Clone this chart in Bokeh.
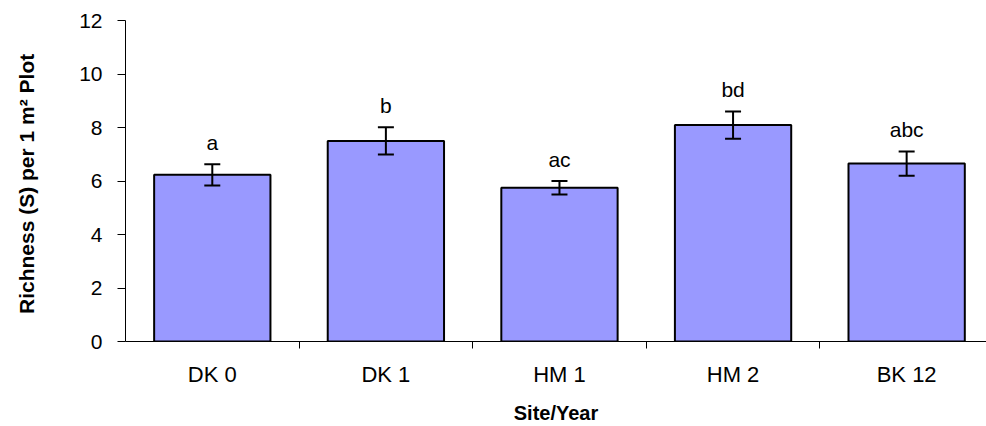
from bokeh.plotting import figure
from bokeh.models import Range1d, FixedTicker, ColumnDataSource, Whisker, TeeHead
from bokeh.core.properties import value
from bokeh.embed import file_html
from bokeh.resources import INLINE

categories = ["DK 0", "DK 1", "HM 1", "HM 2", "BK 12"]
richness = [6.23, 7.50, 5.75, 8.09, 6.65]
std_err = [0.40, 0.51, 0.25, 0.51, 0.45]
groups = ["a", "b", "ac", "bd", "abc"]
y_ticks = [0, 2, 4, 6, 8, 10, 12]

FONT = "Liberation Sans"

xs = [i + 0.5 for i in range(len(categories))]
upper = [m + e for m, e in zip(richness, std_err)]
lower = [m - e for m, e in zip(richness, std_err)]

src = ColumnDataSource(dict(x=xs, top=richness, upper=upper, lower=lower, grp=groups))

p = figure(width=986, height=426, output_backend="svg", toolbar_location=None,
           x_range=Range1d(0, 4.96), y_range=Range1d(0, 12),
           min_border_left=125, min_border_right=0, min_border_top=20, min_border_bottom=85)
p.outline_line_color = None
p.xgrid.visible = False
p.ygrid.visible = False

p.vbar(x="x", top="top", width=0.67, source=src, fill_color="#9999FF",
       line_color="black", line_width=2)

wh = Whisker(base="x", upper="upper", lower="lower", source=src,
             line_color="black", line_width=2, level="overlay",
             upper_head=TeeHead(size=16, line_width=2, line_color="black"),
             lower_head=TeeHead(size=16, line_width=2, line_color="black"))
p.add_layout(wh)

p.text(x="x", y="upper", text="grp", source=src, text_align="center",
       text_baseline="alphabetic", y_offset=-22, text_font=value(FONT),
       text_font_size="21px", text_color="black")

# x axis
xa = p.xaxis[0]
xa.ticker = FixedTicker(ticks=xs, minor_ticks=[i for i in range(1, len(categories))])
xa.major_label_overrides = {x: c for x, c in zip(xs, categories)}
xa.major_tick_line_color = None
xa.major_tick_out = 0
xa.major_tick_in = 0
xa.minor_tick_line_color = "black"
xa.minor_tick_out = 7
xa.minor_tick_in = 0
xa.major_label_standoff = 13
xa.major_label_text_font = FONT
xa.major_label_text_font_size = "22px"
xa.major_label_text_color = "black"
xa.axis_line_color = "black"
xa.axis_label = "Site/Year"
xa.axis_label_text_font = FONT
xa.axis_label_text_font_style = "bold"
xa.axis_label_text_font_size = "20px"
xa.axis_label_text_color = "black"
xa.axis_label_standoff = 12

# y axis
ya = p.yaxis[0]
ya.ticker = FixedTicker(ticks=y_ticks, minor_ticks=[])
ya.major_tick_out = 8
ya.major_tick_in = 0
ya.major_tick_line_color = "black"
ya.minor_tick_line_color = None
ya.major_label_standoff = 15
ya.major_label_text_font = FONT
ya.major_label_text_font_size = "21px"
ya.major_label_text_color = "black"
ya.axis_line_color = "black"
ya.axis_label = "Richness (S)  per 1 m\u00b2 Plot"
ya.axis_label_text_font = FONT
ya.axis_label_text_font_style = "bold"
ya.axis_label_text_font_size = "21px"
ya.axis_label_text_color = "black"
ya.axis_label_standoff = 38

open("out.html", "w").write(file_html(p, INLINE))
